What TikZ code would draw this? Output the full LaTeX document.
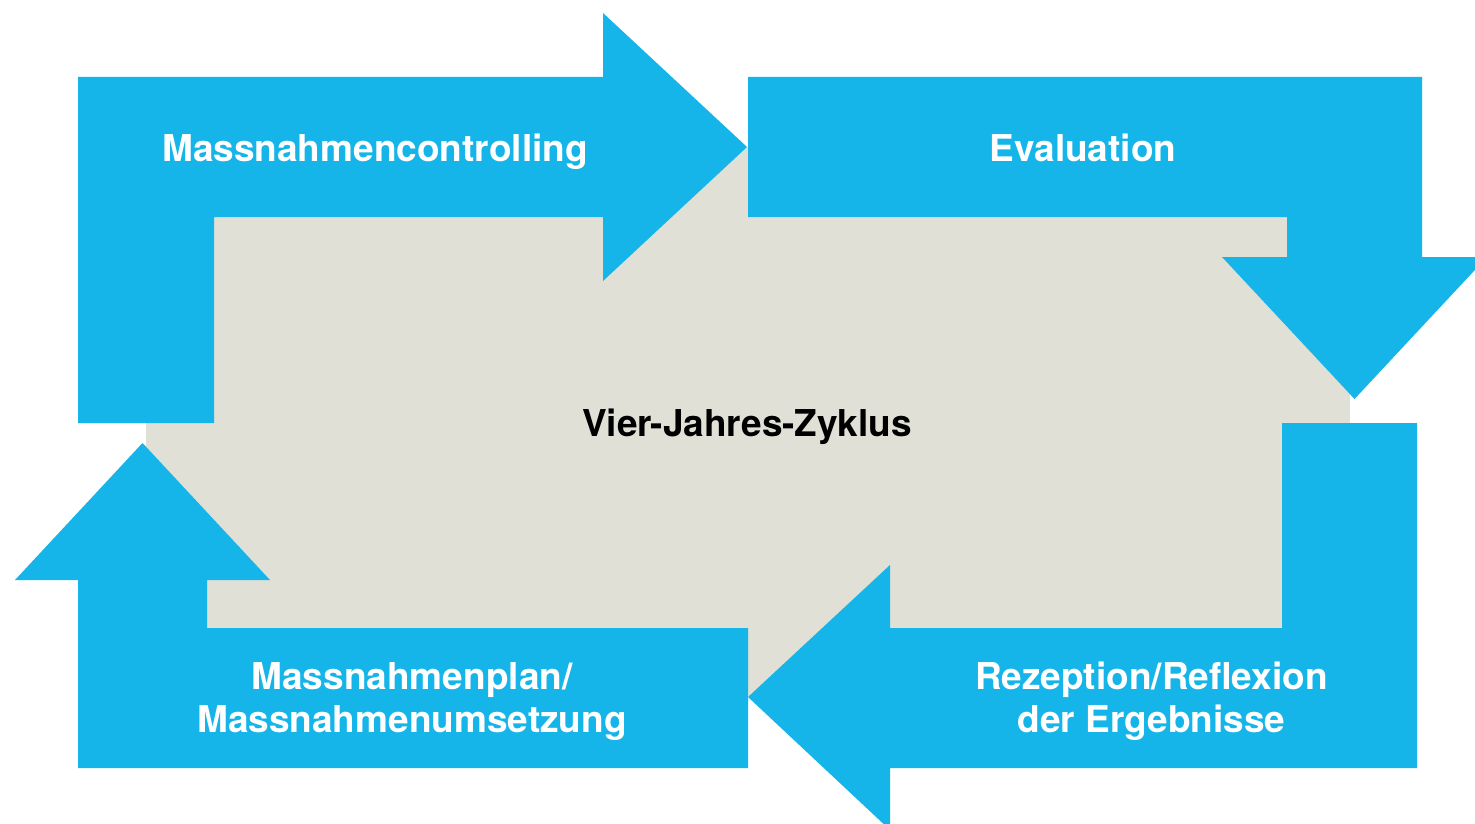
\documentclass[tikz,border=0pt]{standalone}
\usepackage{fontspec}
\setmainfont{TeX Gyre Heros}
\definecolor{cblue}{RGB}{22,181,233}
\definecolor{cgray}{RGB}{224,224,214}
\tikzset{
  arrowshape/.style={fill=cblue, draw=none},
  lbl/.style={text=white, font=\bfseries\fontsize{37}{43}\selectfont, inner sep=0pt, align=center, anchor=base},
  centerlbl/.style={text=black, font=\bfseries\fontsize{37}{43}\selectfont, inner sep=0pt, anchor=base}
}
\begin{document}
\begin{tikzpicture}[x=1pt, y=-1pt]
  \useasboundingbox (0,0) rectangle (1475,824);
  \clip (0,0) rectangle (1475,824);
  \fill[white] (0,0) rectangle (1475,824);
  % background
  \fill[cgray] (146,147) rectangle (1350,697);
  % top-left arrow
  \fill[arrowshape] (78,423) -- (78,77) -- (603,77) -- (603,13) -- (747,147) -- (603,281) -- (603,217) -- (214,217) -- (214,423) -- cycle;
  % top-right arrow
  \fill[arrowshape] (748,77) -- (1422,77) -- (1422,257) -- (1487,257) -- (1354.5,399) -- (1222,257) -- (1287,257) -- (1287,217) -- (748,217) -- cycle;
  % bottom-right arrow
  \fill[arrowshape] (1417,423) -- (1417,768) -- (890,768) -- (890,830) -- (748,697) -- (890,565) -- (890,628) -- (1282,628) -- (1282,423) -- cycle;
  % bottom-left arrow
  \fill[arrowshape] (748,628) -- (748,768) -- (78,768) -- (78,580) -- (15,580) -- (142.5,443) -- (270,580) -- (207,580) -- (207,628) -- cycle;
  % labels
  \node[lbl] (mc) at (375,161) {Massnahmencontrolling};
  \node[lbl] (ev) at (1083,161) {Evaluation};
  \node[lbl] (mp) at (412,732) {Massnahmenplan/\\Massnahmenumsetzung};
  \node[lbl] (rr) at (1151.5,732) {Rezeption/Reflexion\\der Ergebnisse};
  \node[centerlbl] (vj) at (747,436) {Vier-Jahres-Zyklus};
\end{tikzpicture}
\end{document}
